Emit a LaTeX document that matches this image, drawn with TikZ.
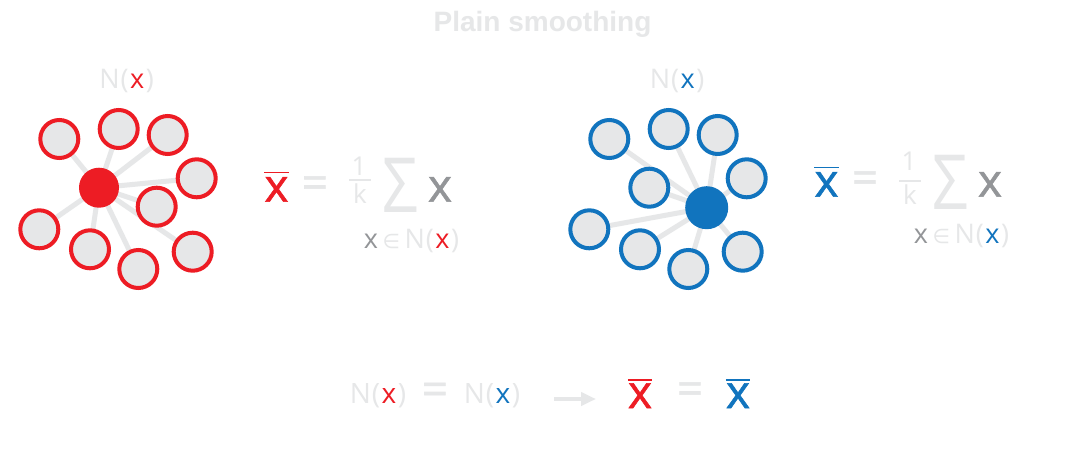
\documentclass[tikz,border=0pt]{standalone}
\usepackage{fontspec}
\setmainfont{Open Sans}
\newfontfamily\heavy{Open Sans}[FakeBold=1.2]
\newfontfamily\titlefont{Liberation Sans}
\newfontfamily\symfont{DejaVu Sans}
\usetikzlibrary{backgrounds,arrows.meta}
\definecolor{cred}{HTML}{ED1C24}
\definecolor{cblue}{HTML}{1174BE}
\definecolor{cfill}{HTML}{E6E7E8}
\definecolor{clight}{HTML}{E6E7E8}
\definecolor{cdark}{HTML}{939598}
\newcommand\fs[1]{\fontsize{#1}{#1}\selectfont}
\newcommand\nbh[1]{\textcolor{clight}{N\kern1pt(}\kern1.5pt\textcolor{#1}{x}\kern1.5pt\textcolor{clight}{)}}
\begin{document}
\begin{tikzpicture}[x=1pt,y=-1pt,
  nbr/.style={circle,draw=#1,line width=4pt,fill=cfill,minimum size=38pt,inner sep=0},
  ctr/.style={circle,fill=#1,minimum size=40pt,inner sep=0},
  edge/.style={draw=cfill,line width=5pt},
  txt/.style={inner sep=0,outer sep=0,anchor=base},
  ctxt/.style={inner sep=0,outer sep=0,anchor=center},
  bar/.style={draw=#1,line width=1.3pt}
]
\useasboundingbox (0,0) rectangle (1085,458);
% title
\node[txt] (title) at (542.5,31) {\titlefont\bfseries\fs{28}\textcolor{clight}{Plain smoothing}};

% left cluster
\node[ctr=cred] (L0) at (99,187.7) {};
\node[nbr=cred] (L1) at (59.3,139) {};
\node[nbr=cred] (L2) at (118.7,129) {};
\node[nbr=cred] (L3) at (167.7,135) {};
\node[nbr=cred] (L4) at (196.7,178.3) {};
\node[nbr=cred] (L5) at (156.7,206.7) {};
\node[nbr=cred] (L6) at (192.7,251.7) {};
\node[nbr=cred] (L7) at (138.3,269) {};
\node[nbr=cred] (L8) at (90,249.3) {};
\node[nbr=cred] (L9) at (39.3,229.3) {};

% right cluster
\node[ctr=cblue,minimum size=43pt] (R0) at (706.7,207.7) {};
\node[nbr=cblue] (R1) at (609.3,139) {};
\node[nbr=cblue] (R2) at (668.7,129) {};
\node[nbr=cblue] (R3) at (717.7,135) {};
\node[nbr=cblue] (R4) at (746.7,178.3) {};
\node[nbr=cblue] (R5) at (649.3,187.7) {};
\node[nbr=cblue] (R6) at (742.7,251.7) {};
\node[nbr=cblue] (R7) at (688.3,269) {};
\node[nbr=cblue] (R8) at (640,249.3) {};
\node[nbr=cblue] (R9) at (589.3,229.3) {};

\begin{scope}[on background layer]
  \fill[white] (0,0) rectangle (1085,458);
  \foreach \i in {1,...,9} {
    \draw[edge] (L0.center) -- (L\i.center);
    \draw[edge] (R0.center) -- (R\i.center);
  }
\end{scope}

% neighbourhood labels
\node[txt] (NL) at (126.5,88) {\fs{27}\nbh{cred}};
\node[txt] (NR) at (677,88) {\fs{27}\nbh{cblue}};

% left formula
\node[txt] (xL) at (276.5,201.7) {\heavy\fs{46}\textcolor{cred}{x}};
\draw[bar=cred] ([yshift=4.5pt]xL.north west) -- ([yshift=4.5pt]xL.north east);
\node[ctxt] (eqL) at (315,187.5) {\heavy\fs{46}\textcolor{clight}{=}};
\node[ctxt] (oneL) at (359,166.5) {\fs{26}\textcolor{clight}{1}};
\node[ctxt] (kL) at (360,194) {\fs{26}\textcolor{clight}{k}};
\draw[bar=clight] (349,180) -- (371,180);
\node[ctxt] (sumL) at (400.5,185) {\fs{76}\textcolor{clight}{\scalebox{0.83}[1]{Σ}}};
\node[txt] (sxL) at (440,201.7) {\heavy\fs{46}\textcolor{cdark}{x}};
\node[txt] (subL) at (411.5,248) {\fs{27}\textcolor{cdark}{x}\,{\symfont\fs{20}\textcolor{clight}{∈}}\,\nbh{cred}};

% right formula
\node[txt] (xR) at (826.5,196.7) {\heavy\fs{46}\textcolor{cblue}{x}};
\draw[bar=cblue] ([yshift=4.5pt]xR.north west) -- ([yshift=4.5pt]xR.north east);
\node[ctxt] (eqR) at (865,182.5) {\heavy\fs{46}\textcolor{clight}{=}};
\node[ctxt] (oneR) at (909,161.5) {\fs{26}\textcolor{clight}{1}};
\node[ctxt] (kR) at (910,194.5) {\fs{26}\textcolor{clight}{k}};
\draw[bar=clight] (899,181) -- (921,181);
\node[ctxt] (sumR) at (950.5,182) {\fs{76}\textcolor{clight}{\scalebox{0.83}[1]{Σ}}};
\node[txt] (sxR) at (990,196.7) {\heavy\fs{46}\textcolor{cdark}{x}};
\node[txt] (subR) at (961.5,243.3) {\fs{27}\textcolor{cdark}{x}\,{\symfont\fs{20}\textcolor{clight}{∈}}\,\nbh{cblue}};

% bottom row
\node[txt] (bN1) at (378,403) {\fs{28}\nbh{cred}};
\node[ctxt] (bEq1) at (435,394) {\heavy\fs{46}\textcolor{clight}{=}};
\node[txt] (bN2) at (492,403) {\fs{28}\nbh{cblue}};
\coordinate (a1) at (554,399);
\coordinate (a2) at (596,399);
\draw[draw=clight,line width=4pt,-{Triangle[length=15pt,width=13pt]}] (a1) -- (a2);
\node[txt] (bxR) at (640,408) {\heavy\fs{46}\textcolor{cred}{x}};
\draw[bar=cred] ([yshift=3.5pt]bxR.north west) -- ([yshift=3.5pt]bxR.north east);
\node[ctxt] (bEq2) at (690,393.5) {\heavy\fs{46}\textcolor{clight}{=}};
\node[txt] (bxB) at (738,408) {\heavy\fs{46}\textcolor{cblue}{x}};
\draw[bar=cblue] ([yshift=3.5pt]bxB.north west) -- ([yshift=3.5pt]bxB.north east);
\end{tikzpicture}
\end{document}
